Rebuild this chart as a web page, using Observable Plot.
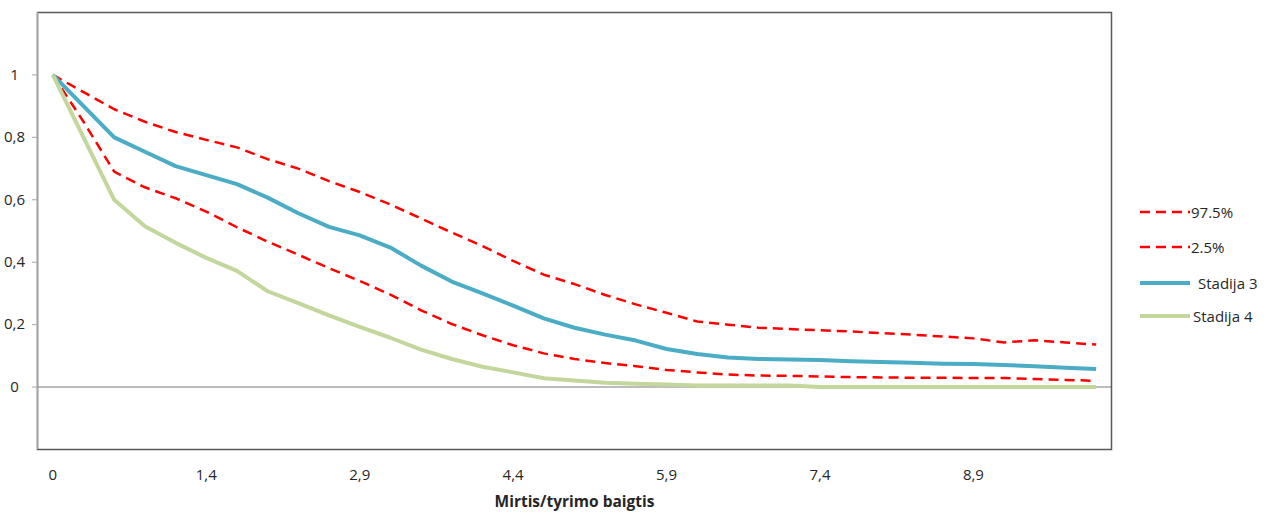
<!DOCTYPE html>
<html>
<head>
<meta charset="utf-8">
<script src="https://cdn.jsdelivr.net/npm/d3@7"></script>
<script src="https://cdn.jsdelivr.net/npm/@observablehq/plot@0.6"></script>
<style>
  html, body { margin: 0; padding: 0; background: #fff; }
  #wrap { position: relative; width: 1280px; height: 513px; overflow: hidden; }
  #legend { position: absolute; left: 1140px; top: 200px; font-family: "Open Sans", sans-serif; font-size: 15px; color: #262626; }
  #legend .row { position: absolute; left: 0; height: 24px; display: flex; align-items: center; white-space: nowrap; }
  #legend svg { display: block; }
</style>
</head>
<body>
<div id="wrap"><div id="legend"></div></div>
<script>
// Point index (category position) along the x axis
const xTickIdx = [0, 5, 10, 15, 20, 25, 30];
const xTickLabels = ["0", "1,4", "2,9", "4,4", "5,9", "7,4", "8,9"];
const yTicks = [0, 0.2, 0.4, 0.6, 0.8, 1];
const yTickLabels = ["0", "0,2", "0,4", "0,6", "0,8", "1"];

const upper975 = [1.0, 0.945, 0.89, 0.85, 0.817, 0.792, 0.768, 0.73, 0.70, 0.66, 0.625, 0.585, 0.54, 0.495, 0.452, 0.404, 0.36, 0.33, 0.295, 0.265, 0.238, 0.21, 0.2, 0.19, 0.186, 0.182, 0.178, 0.173, 0.168, 0.162, 0.156, 0.143, 0.15, 0.143, 0.136];
const lower25 = [1.0, 0.85, 0.69, 0.64, 0.605, 0.562, 0.512, 0.466, 0.424, 0.381, 0.34, 0.296, 0.246, 0.202, 0.166, 0.134, 0.108, 0.09, 0.077, 0.067, 0.055, 0.047, 0.04, 0.037, 0.036, 0.034, 0.032, 0.031, 0.03, 0.03, 0.029, 0.029, 0.026, 0.023, 0.02];
const stadija3 = [1.0, 0.9, 0.80, 0.754, 0.708, 0.679, 0.65, 0.607, 0.557, 0.513, 0.486, 0.447, 0.389, 0.338, 0.30, 0.261, 0.22, 0.19, 0.168, 0.149, 0.122, 0.106, 0.095, 0.09, 0.088, 0.087, 0.083, 0.08, 0.078, 0.075, 0.074, 0.071, 0.067, 0.062, 0.058];
const stadija4 = [1.0, 0.8, 0.6, 0.515, 0.462, 0.414, 0.372, 0.307, 0.269, 0.23, 0.193, 0.158, 0.12, 0.09, 0.065, 0.047, 0.028, 0.021, 0.014, 0.011, 0.008, 0.005, 0.005, 0.005, 0.005, 0, 0, 0, 0, 0, 0, 0, 0, 0, 0];

const seriesNames = ["97.5%", "2.5%", "Stadija 3", "Stadija 4"];
const seriesValues = [upper975, lower25, stadija3, stadija4];
const seriesColors = ["#FF0000", "#FF0000", "#4BACC6", "#C3D69B"];
const seriesWidths = [2.5, 2.5, 4, 4];
const seriesDash = ["10,6", "10,6", null, null];

const rows = [];
seriesNames.forEach((name, s) => seriesValues[s].forEach((v, i) => rows.push({series: name, i, v})));

const font = "'Open Sans', sans-serif";

const lineMarks = seriesNames.map((name, s) =>
  Plot.line(rows.filter(r => r.series === name), {
    x: "i", y: "v",
    stroke: seriesColors[s], strokeWidth: seriesWidths[s],
    strokeDasharray: seriesDash[s] || undefined,
    strokeLinejoin: "round", strokeLinecap: "butt"
  })
);

const chart = Plot.plot({
  width: 1280, height: 513,
  marginLeft: 37, marginRight: 169, marginTop: 12, marginBottom: 64,
  style: {fontFamily: font, fontSize: "15px", background: "transparent", color: "#262626"},
  x: {domain: [-0.5, 34.5]},
  y: {domain: [-0.2, 1.2]},
  marks: [
    Plot.ruleY([0], {stroke: "#A6A6A6", strokeWidth: 1.5}),
    ...lineMarks,
    Plot.frame({stroke: "#595959", strokeWidth: 1.5}),
    Plot.ruleX([-0.5], {stroke: "#A6A6A6", strokeWidth: 1.5}),
    Plot.axisY({ticks: yTicks, tickSize: 5, tickPadding: 18, stroke: "#A6A6A6", label: null,
      textAnchor: "middle",
      tickFormat: d => yTickLabels[yTicks.indexOf(d)], fill: "#262626", fontSize: 15}),
    Plot.axisX({ticks: xTickIdx, tickSize: 0, tickPadding: 20, label: null,
      tickFormat: d => xTickLabels[xTickIdx.indexOf(d)], fill: "#262626", fontSize: 15}),
    Plot.text(["Mirtis/tyrimo baigtis"], {frameAnchor: "bottom", lineAnchor: "top", dy: 46,
      fontWeight: "bold", fontSize: 15.5, fill: "#262626"})
  ]
});
const wrap = document.getElementById("wrap");
wrap.insertBefore(chart, wrap.firstChild);

// Legend
const legend = document.getElementById("legend");
const legendTops = [0, 35, 71, 104];
const legendTextGap = [1, 1, 8, 3];
seriesNames.forEach((name, s) => {
  const row = document.createElement("div");
  row.className = "row";
  row.style.top = legendTops[s] + "px";
  const sw = d3.create("svg").attr("width", 50).attr("height", 24);
  sw.append("line").attr("x1", 0).attr("x2", 50).attr("y1", 12).attr("y2", 12)
    .attr("stroke", seriesColors[s]).attr("stroke-width", s < 2 ? 2.5 : 4)
    .attr("stroke-dasharray", seriesDash[s] || null).attr("stroke-linecap", s < 2 ? "butt" : "round");
  row.appendChild(sw.node());
  const t = document.createElement("span");
  t.textContent = name;
  t.style.marginLeft = legendTextGap[s] + "px";
  row.appendChild(t);
  legend.appendChild(row);
});
</script>
</body>
</html>
